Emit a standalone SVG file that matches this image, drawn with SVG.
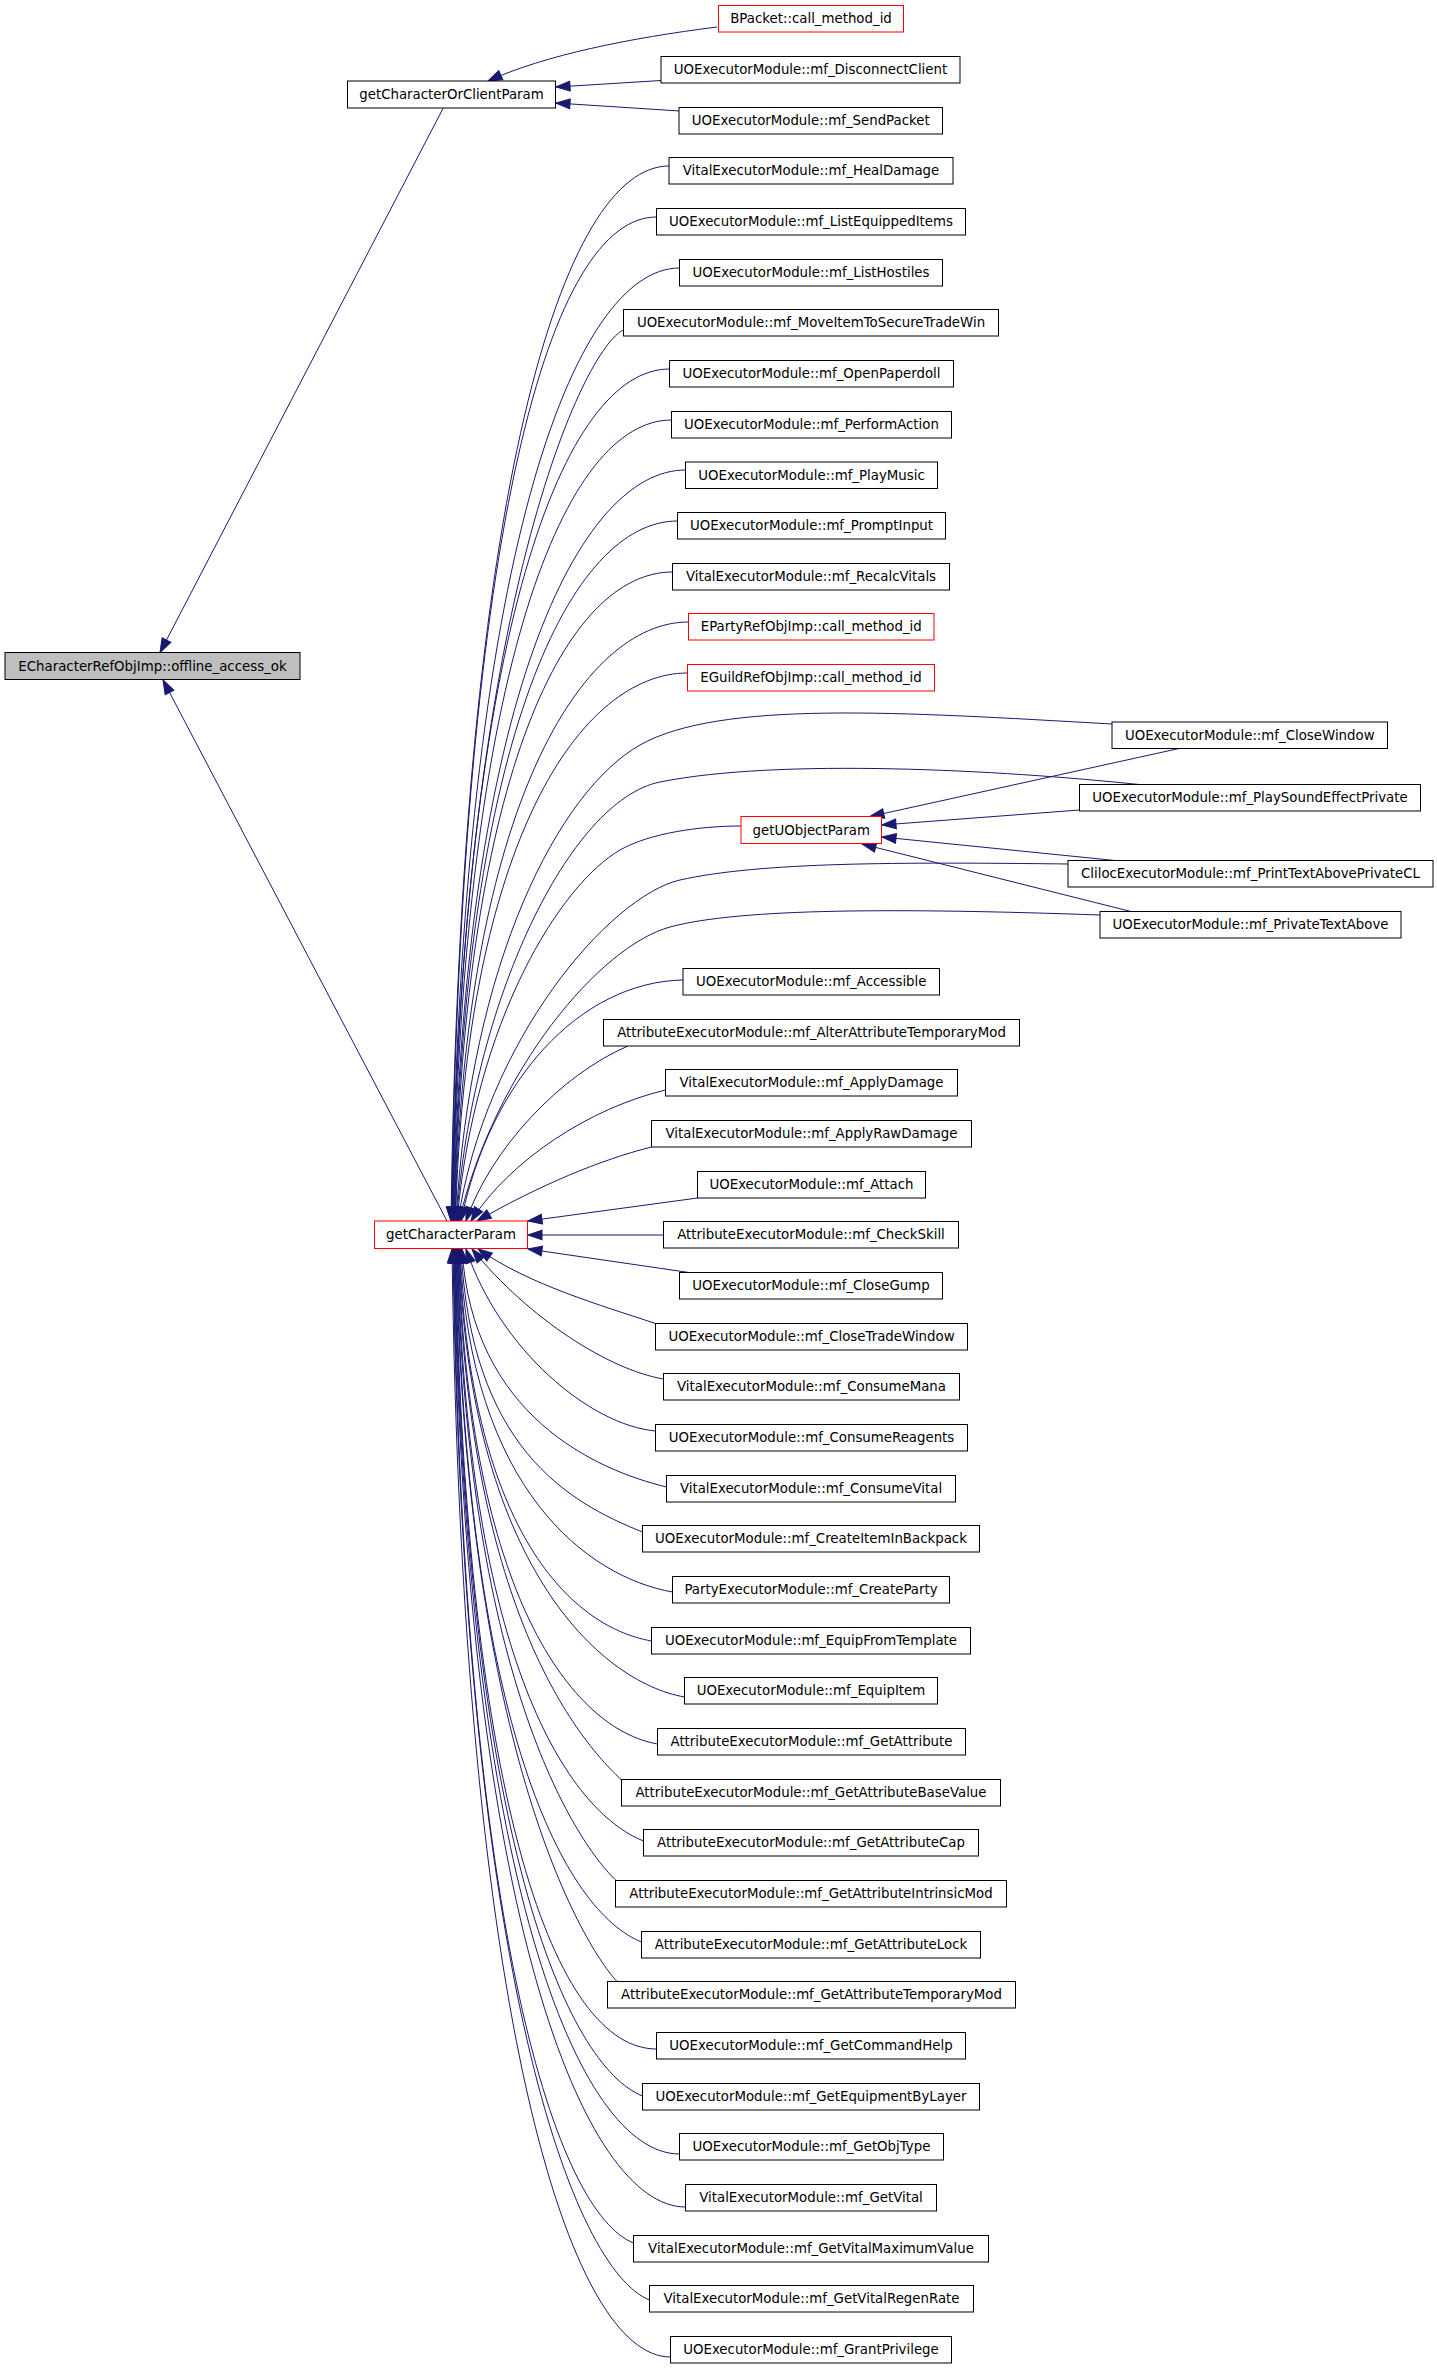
<svg xmlns="http://www.w3.org/2000/svg" width="1437" height="2368" viewBox="0 0 1437 2368">
<style>
.n rect{fill:#ffffff;stroke:#000000;stroke-width:1}
.n.red rect{stroke:#ff0000}
.n.root rect{fill:#bfbfbf}
.n text{font-family:"DejaVu Sans","Liberation Sans",sans-serif;font-size:13.33px;text-anchor:middle;fill:#000000}
#edges path{fill:none;stroke:#191970;stroke-width:1;marker-end:url(#ah)}
</style>
<defs>
<marker id="ah" markerUnits="userSpaceOnUse" markerWidth="14" markerHeight="10" viewBox="0 0 13 9" refX="13" refY="4.5" orient="auto" overflow="visible">
<path d="M0,0 L13,4.5 L0,9 z" fill="#191970" stroke="#191970" stroke-width="1"/>
</marker>
</defs>
<rect x="0" y="0" width="1437" height="2368" fill="#ffffff"/>
<g id="edges">
<path d="M443,108.5 L160,652.5"/>
<path d="M447,1221 L163,680"/>
<path d="M717,27 C630,38 545,55 488,81"/>
<path d="M661,80.5 L556,87"/>
<path d="M680,111 L556,103"/>
<path d="M1179,748.5 L870,816.5"/>
<path d="M1079.5,810 L882,825"/>
<path d="M1115,860.5 L882,837"/>
<path d="M1131,911.5 L862,844"/>
<path d="M669,166 C564,166 461,482 451,1221"/>
<path d="M656.5,217 C551.5,217 461.5,518 451.5,1221"/>
<path d="M679.5,268 C574.5,268 462,554 452,1221"/>
<path d="M623.5,330 C585,347 462,597 452,1221"/>
<path d="M669.5,369 C564.5,369 462.5,625 452.5,1221"/>
<path d="M671.5,420 C566.5,420 463,660 453,1221"/>
<path d="M685.5,470 C580.5,470 463.5,695 453.5,1221"/>
<path d="M677.5,521 C572.5,521 464,731 454,1221"/>
<path d="M672.5,572 C567.5,572 464.5,767 454.5,1221"/>
<path d="M688.5,622 C583.5,622 465,802 455,1221"/>
<path d="M687.5,673 C582.5,673 465.5,837 455.5,1221"/>
<path d="M1112,724 C900,712 720,700 640,745 C560,790 470,960 456,1221"/>
<path d="M1139,784.5 C1000,770 780,758 660,782 C570,800 472,1000 456.5,1221"/>
<path d="M741,826 C700,826 650,833 620,850 C560,885 475,1020 457,1221"/>
<path d="M1068,864 C900,862 760,862 680,880 C610,896 485,1040 458,1221"/>
<path d="M1100,915 C900,908 740,908 670,927 C600,946 495,1070 459,1221"/>
<path d="M683,980 C580,982 490,1080 461,1221"/>
<path d="M628,1046 C560,1075 490,1150 466,1221"/>
<path d="M665.5,1090 C590,1108 510,1160 471,1221"/>
<path d="M651.5,1147 C600,1160 540,1185 477,1221"/>
<path d="M697.5,1198 L528,1221"/>
<path d="M663.5,1235 L528,1235"/>
<path d="M689,1272.5 L528,1249"/>
<path d="M655.5,1323.5 C600,1305 530,1285 478,1249"/>
<path d="M663.5,1379 C610,1370 530,1320 472,1249"/>
<path d="M655.5,1431 C590,1425 500,1350 466,1249"/>
<path d="M666.5,1487 C596.5,1470 472,1416 462,1249"/>
<path d="M642.5,1532 C567.5,1502 471,1447 461,1249"/>
<path d="M672.5,1592 C587.5,1577 470,1489 460,1249"/>
<path d="M651.5,1641 C566.5,1626 469.5,1523 459.5,1249"/>
<path d="M684.5,1697 C599.5,1682 469,1563 459,1249"/>
<path d="M657.5,1744 C572.5,1729 468.5,1596 458.5,1249"/>
<path d="M621.5,1780 C585.5,1746 468,1621 458,1249"/>
<path d="M643.5,1841 C568.5,1811 467.5,1663 457.5,1249"/>
<path d="M616,1880.5 C581,1847 467,1691 457,1249"/>
<path d="M641.5,1942 C566.5,1912 466.5,1734 456.5,1249"/>
<path d="M617,1981.5 C587,1949.5 466,1762 456,1249"/>
<path d="M656.5,2049 C556.5,2049 465.5,1809 455.5,1249"/>
<path d="M642.5,2096 C567.5,2066 465,1842 455,1249"/>
<path d="M679.5,2154 C579.5,2154 464.5,1882 454.5,1249"/>
<path d="M685.5,2207 C585.5,2207 464,1920 454,1249"/>
<path d="M633.5,2243 C558.5,2213 463.5,1945 453.5,1249"/>
<path d="M649.5,2300 C574.5,2270 463,1985 453,1249"/>
<path d="M670.5,2357 C570.5,2357 462,2025 452,1249"/>
</g>
<g id="n_offline_access_ok" class="n root"><rect x="5" y="652.5" width="295" height="27"/><text x="152.5" y="670.5">ECharacterRefObjImp::offline_access_ok</text></g>
<g id="n_getCharacterOrClientParam" class="n"><rect x="347.5" y="81" width="208" height="27"/><text x="451.5" y="99">getCharacterOrClientParam</text></g>
<g id="n_getCharacterParam" class="n red"><rect x="374.5" y="1221" width="153" height="27.5"/><text x="451" y="1239">getCharacterParam</text></g>
<g id="n_getUObjectParam" class="n red"><rect x="741" y="816.5" width="140.5" height="27"/><text x="811.25" y="834.5">getUObjectParam</text></g>
<g id="n_BPacket" class="n red"><rect x="718.5" y="5.5" width="185" height="26.5"/><text x="811" y="23">BPacket::call_method_id</text></g>
<g id="n_DisconnectClient" class="n"><rect x="661" y="56.5" width="299" height="26.5"/><text x="810.5" y="74">UOExecutorModule::mf_DisconnectClient</text></g>
<g id="n_SendPacket" class="n"><rect x="679" y="107.5" width="263.5" height="26.5"/><text x="810.75" y="125">UOExecutorModule::mf_SendPacket</text></g>
<g id="n_HealDamage" class="n"><rect x="669" y="157.5" width="284" height="26.5"/><text x="811" y="175">VitalExecutorModule::mf_HealDamage</text></g>
<g id="n_ListEquippedItems" class="n"><rect x="656.5" y="208.5" width="309" height="26.5"/><text x="811" y="226">UOExecutorModule::mf_ListEquippedItems</text></g>
<g id="n_ListHostiles" class="n"><rect x="679.5" y="259.5" width="263" height="26.5"/><text x="811" y="277">UOExecutorModule::mf_ListHostiles</text></g>
<g id="n_MoveItemToSecureTradeWin" class="n"><rect x="623.5" y="309.5" width="375" height="26.5"/><text x="811" y="327">UOExecutorModule::mf_MoveItemToSecureTradeWin</text></g>
<g id="n_OpenPaperdoll" class="n"><rect x="669.5" y="360.5" width="284" height="26.5"/><text x="811.5" y="378">UOExecutorModule::mf_OpenPaperdoll</text></g>
<g id="n_PerformAction" class="n"><rect x="671.5" y="411.5" width="280" height="26.5"/><text x="811.5" y="429">UOExecutorModule::mf_PerformAction</text></g>
<g id="n_PlayMusic" class="n"><rect x="685.5" y="462" width="252" height="26.5"/><text x="811.5" y="479.5">UOExecutorModule::mf_PlayMusic</text></g>
<g id="n_PromptInput" class="n"><rect x="677.5" y="512.5" width="268" height="26.5"/><text x="811.5" y="530">UOExecutorModule::mf_PromptInput</text></g>
<g id="n_RecalcVitals" class="n"><rect x="672.5" y="563.5" width="277" height="26.5"/><text x="811" y="581">VitalExecutorModule::mf_RecalcVitals</text></g>
<g id="n_EParty" class="n red"><rect x="688.5" y="613.5" width="245.5" height="26.5"/><text x="811.25" y="631">EPartyRefObjImp::call_method_id</text></g>
<g id="n_EGuild" class="n red"><rect x="687.5" y="664.5" width="247" height="26.5"/><text x="811" y="682">EGuildRefObjImp::call_method_id</text></g>
<g id="n_CloseWindow" class="n"><rect x="1112" y="722" width="275.5" height="26.5"/><text x="1249.75" y="739.5">UOExecutorModule::mf_CloseWindow</text></g>
<g id="n_PlaySoundEffectPrivate" class="n"><rect x="1079.5" y="784.5" width="341" height="26.5"/><text x="1250" y="802">UOExecutorModule::mf_PlaySoundEffectPrivate</text></g>
<g id="n_PrintTextAbovePrivateCL" class="n"><rect x="1068" y="860.5" width="365" height="26.5"/><text x="1250.5" y="878">ClilocExecutorModule::mf_PrintTextAbovePrivateCL</text></g>
<g id="n_PrivateTextAbove" class="n"><rect x="1100" y="911.5" width="301" height="26.5"/><text x="1250.5" y="929">UOExecutorModule::mf_PrivateTextAbove</text></g>
<g id="n_Accessible" class="n"><rect x="683" y="968.5" width="256.5" height="26.5"/><text x="811.25" y="986">UOExecutorModule::mf_Accessible</text></g>
<g id="n_AlterAttributeTemporaryMod" class="n"><rect x="603.5" y="1019.5" width="416" height="26.5"/><text x="811.5" y="1037">AttributeExecutorModule::mf_AlterAttributeTemporaryMod</text></g>
<g id="n_ApplyDamage" class="n"><rect x="665.5" y="1069.5" width="292" height="26.5"/><text x="811.5" y="1087">VitalExecutorModule::mf_ApplyDamage</text></g>
<g id="n_ApplyRawDamage" class="n"><rect x="651.5" y="1120.5" width="320" height="26.5"/><text x="811.5" y="1138">VitalExecutorModule::mf_ApplyRawDamage</text></g>
<g id="n_Attach" class="n"><rect x="697.5" y="1171.5" width="228" height="26.5"/><text x="811.5" y="1189">UOExecutorModule::mf_Attach</text></g>
<g id="n_CheckSkill" class="n"><rect x="663.5" y="1221.5" width="295" height="26.5"/><text x="811" y="1239">AttributeExecutorModule::mf_CheckSkill</text></g>
<g id="n_CloseGump" class="n"><rect x="679.5" y="1272.5" width="263" height="26.5"/><text x="811" y="1290">UOExecutorModule::mf_CloseGump</text></g>
<g id="n_CloseTradeWindow" class="n"><rect x="655.5" y="1323.5" width="312" height="26.5"/><text x="811.5" y="1341">UOExecutorModule::mf_CloseTradeWindow</text></g>
<g id="n_ConsumeMana" class="n"><rect x="663.5" y="1373.5" width="296" height="26.5"/><text x="811.5" y="1391">VitalExecutorModule::mf_ConsumeMana</text></g>
<g id="n_ConsumeReagents" class="n"><rect x="655.5" y="1424.5" width="312" height="26.5"/><text x="811.5" y="1442">UOExecutorModule::mf_ConsumeReagents</text></g>
<g id="n_ConsumeVital" class="n"><rect x="666.5" y="1475.5" width="289" height="26.5"/><text x="811" y="1493">VitalExecutorModule::mf_ConsumeVital</text></g>
<g id="n_CreateItemInBackpack" class="n"><rect x="642.5" y="1525.5" width="337" height="26.5"/><text x="811" y="1543">UOExecutorModule::mf_CreateItemInBackpack</text></g>
<g id="n_CreateParty" class="n"><rect x="672.5" y="1576.5" width="277" height="26.5"/><text x="811" y="1594">PartyExecutorModule::mf_CreateParty</text></g>
<g id="n_EquipFromTemplate" class="n"><rect x="651.5" y="1627.5" width="319" height="26.5"/><text x="811" y="1645">UOExecutorModule::mf_EquipFromTemplate</text></g>
<g id="n_EquipItem" class="n"><rect x="684.5" y="1677.5" width="253" height="26.5"/><text x="811" y="1695">UOExecutorModule::mf_EquipItem</text></g>
<g id="n_GetAttribute" class="n"><rect x="657.5" y="1728.5" width="308" height="26.5"/><text x="811.5" y="1746">AttributeExecutorModule::mf_GetAttribute</text></g>
<g id="n_GetAttributeBaseValue" class="n"><rect x="621.5" y="1779.5" width="379" height="26.5"/><text x="811" y="1797">AttributeExecutorModule::mf_GetAttributeBaseValue</text></g>
<g id="n_GetAttributeCap" class="n"><rect x="643.5" y="1829.5" width="335" height="26.5"/><text x="811" y="1847">AttributeExecutorModule::mf_GetAttributeCap</text></g>
<g id="n_GetAttributeIntrinsicMod" class="n"><rect x="615.5" y="1880.5" width="391" height="26.5"/><text x="811" y="1898">AttributeExecutorModule::mf_GetAttributeIntrinsicMod</text></g>
<g id="n_GetAttributeLock" class="n"><rect x="641.5" y="1931.5" width="339" height="26.5"/><text x="811" y="1949">AttributeExecutorModule::mf_GetAttributeLock</text></g>
<g id="n_GetAttributeTemporaryMod" class="n"><rect x="607.5" y="1981.5" width="408" height="26.5"/><text x="811.5" y="1999">AttributeExecutorModule::mf_GetAttributeTemporaryMod</text></g>
<g id="n_GetCommandHelp" class="n"><rect x="656.5" y="2032.5" width="309" height="26.5"/><text x="811" y="2050">UOExecutorModule::mf_GetCommandHelp</text></g>
<g id="n_GetEquipmentByLayer" class="n"><rect x="642.5" y="2083.5" width="337" height="26.5"/><text x="811" y="2101">UOExecutorModule::mf_GetEquipmentByLayer</text></g>
<g id="n_GetObjType" class="n"><rect x="679.5" y="2133.5" width="264" height="26.5"/><text x="811.5" y="2151">UOExecutorModule::mf_GetObjType</text></g>
<g id="n_GetVital" class="n"><rect x="685.5" y="2184.5" width="251" height="26.5"/><text x="811" y="2202">VitalExecutorModule::mf_GetVital</text></g>
<g id="n_GetVitalMaximumValue" class="n"><rect x="633.5" y="2235.5" width="355" height="26.5"/><text x="811" y="2253">VitalExecutorModule::mf_GetVitalMaximumValue</text></g>
<g id="n_GetVitalRegenRate" class="n"><rect x="649.5" y="2285.5" width="324" height="26.5"/><text x="811.5" y="2303">VitalExecutorModule::mf_GetVitalRegenRate</text></g>
<g id="n_GrantPrivilege" class="n"><rect x="670.5" y="2336.5" width="281" height="26.5"/><text x="811" y="2354">UOExecutorModule::mf_GrantPrivilege</text></g>
</svg>
